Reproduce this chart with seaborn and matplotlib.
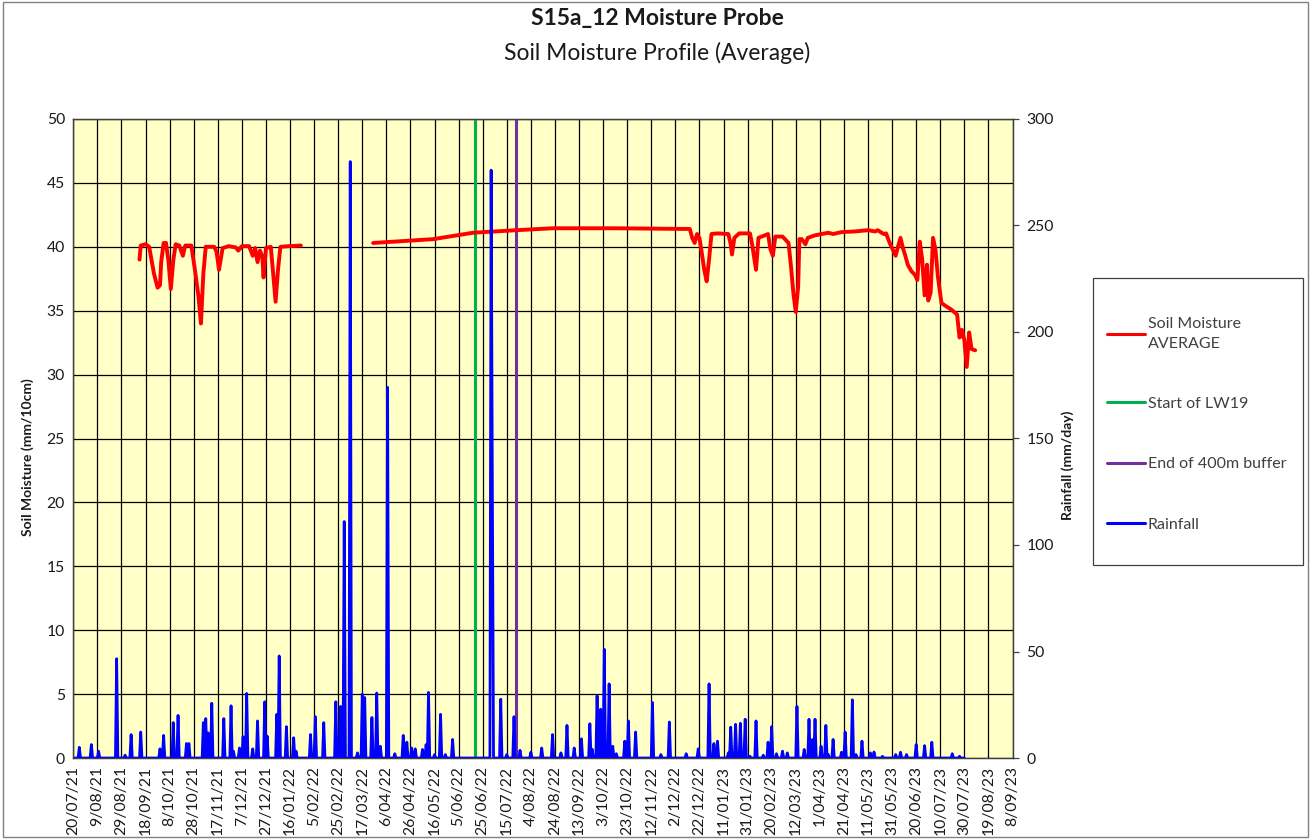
import numpy as np
import pandas as pd
import seaborn as sns
import matplotlib.pyplot as plt
from matplotlib.lines import Line2D
from matplotlib.patches import Rectangle

# all x values are days counted from the first axis date (20/07/21)
start = pd.Timestamp('2021-07-20')
end = pd.Timestamp('2023-09-08')

# soil moisture AVERAGE (mm/10cm), first logging period
sm1_day = [55, 56, 60, 63, 67, 70, 72, 73, 75, 77, 79, 81, 83, 85, 88, 91, 93, 98,
           101, 104, 106, 108, 110, 117, 119, 121, 124, 129, 135, 137, 140, 146,
           149, 151, 153, 155, 157, 158, 160, 164, 166, 168, 170, 172, 179, 189]
sm1_val = [39.0, 40.1, 40.2, 40.0, 37.9, 36.8, 37.0, 38.8, 40.3, 40.3, 38.9, 36.7, 38.9, 40.2, 40.1, 39.3, 40.1, 40.1,
           38.2, 36.1, 34.0, 37.9, 40.0, 40.0, 39.6, 38.2, 39.9, 40.05, 39.95, 39.7, 40.05, 40.05,
           39.3, 39.9, 38.8, 39.7, 39.2, 37.6, 39.9, 40.0, 37.9, 35.7, 38.2, 40.0, 40.05, 40.1]

# second logging period
sm2_day = [249, 299, 332, 368, 398, 450, 505, 512, 514, 516, 518, 520, 522, 524, 526, 528, 530,
           535, 544, 546, 547, 549, 553, 562, 564, 567, 569, 577, 579, 581, 583, 589, 594,
           596, 598, 600, 602, 603, 605, 608, 610, 616, 627, 631, 638, 649, 660, 666, 668,
           673, 675, 678, 680, 683, 685, 687, 689, 691, 693, 696, 699, 701, 703, 705, 707,
           709, 710, 712, 714, 716, 718, 721, 724, 729, 734, 736, 738, 740, 742, 744, 746, 749]
sm2_val = [40.3, 40.6, 41.1, 41.3, 41.45, 41.45, 41.4, 41.4, 40.7, 40.3, 41.0, 40.7, 39.5, 38.2, 37.3, 39.0, 41.0,
           41.05, 41.0, 40.2, 39.4, 40.7, 41.05, 41.05, 40.05, 38.2, 40.7, 41.0, 39.8, 39.3, 40.8, 40.8, 40.3,
           38.5, 36.4, 34.9, 36.9, 40.6, 40.6, 40.2, 40.7, 40.9, 41.1, 41.0, 41.15, 41.2, 41.3, 41.2, 41.3,
           41.0, 41.05, 40.3, 39.9, 39.3, 40.05, 40.7, 39.9, 39.3, 38.6, 38.1, 37.8, 37.4, 40.4, 39.0, 36.2,
           38.6, 35.8, 36.4, 40.7, 39.8, 37.7, 35.6, 35.4, 35.1, 34.7, 32.9, 33.5, 32.7, 30.6, 33.3, 32.0, 31.9]

# rainfall (mm/day), wet days only - other days are 0
rain_day = [5, 15, 21, 36, 43, 48, 56, 72, 75, 83, 87, 94, 96, 108, 110, 112, 115, 125, 131, 133,
            138, 141, 144, 149, 153, 159, 161, 169, 171, 177, 183, 185, 197, 201, 208, 218, 222,
            225, 230, 236, 240, 242, 248, 252, 255, 261, 267, 274, 277, 281, 284, 290, 293, 295,
            300, 305, 309, 315, 347, 348, 355, 360, 366, 371, 380, 389, 398, 405, 410, 416, 422,
            429, 431, 435, 438, 441, 445, 448, 451, 458, 461, 467, 481, 488, 495, 509, 519, 528,
            532, 535, 544, 546, 550, 554, 558, 562, 567, 573, 577, 580, 584, 589, 593, 601, 607,
            611, 614, 616, 621, 625, 627, 631, 638, 641, 647, 650, 655, 662, 665, 672, 683, 687,
            692, 700, 707, 713, 730, 736]
rain_mm = [5.0, 6.3, 3.2, 46.6, 1.3, 11.0, 12.2, 4.3, 10.6, 16.6, 20.0, 6.8, 6.8, 16.6, 18.5, 11.8, 25.7, 18.5, 24.5, 3.2,
           4.7, 10.0, 30.3, 4.3, 17.4, 26.4, 10.3, 20.5, 47.9, 14.7, 9.5, 3.2, 11.0, 19.4, 16.6, 26.4, 24.2,
           111.0, 280.0, 2.4, 30.0, 28.4, 19.0, 30.5, 5.5, 174.0, 2.0, 10.6, 7.4, 4.7, 4.3, 4.0, 6.3, 30.8,
           1.6, 20.5, 1.6, 8.7, 276.0, 130.0, 27.6, 1.6, 19.4, 3.6, 2.7, 4.7, 11.0, 2.4, 15.3, 4.7, 9.0,
           16.1, 4.0, 29.2, 22.9, 51.0, 34.8, 5.5, 2.0, 7.9, 17.4, 12.2, 26.0, 1.6, 16.9, 2.0, 4.3, 34.8,
           6.8, 7.9, 2.4, 14.5, 15.8, 16.3, 18.2, 0.8, 17.4, 1.3, 7.4, 14.7, 2.0, 3.2, 2.4, 24.2, 4.0,
           18.2, 8.7, 18.2, 5.5, 15.3, 1.6, 8.7, 2.7, 12.2, 27.3, 1.6, 7.9, 2.4, 2.8, 0.8, 1.6, 2.7,
           1.6, 6.3, 5.8, 7.4, 2.0, 0.8]
rain_last_day = 740

lw19_start = pd.Timestamp('2022-06-19')
buffer_end = pd.Timestamp('2022-07-23')

# build frames
sm = pd.concat([pd.DataFrame({'day': sm1_day, 'val': sm1_val, 'seg': 1}),
                pd.DataFrame({'day': sm2_day, 'val': sm2_val, 'seg': 2})], ignore_index=True)
sm['date'] = start + pd.to_timedelta(sm['day'], unit='D')

days = np.arange(0, rain_last_day + 1)
mm = np.zeros(len(days))
mm[rain_day] = rain_mm
rain = pd.DataFrame({'date': start + pd.to_timedelta(days, unit='D'), 'mm': mm})

sns.set_theme(style='white')
plt.rcParams['font.family'] = ['Lato', 'DejaVu Sans']

fig = plt.figure(figsize=(13.14, 8.39), dpi=100)
ax = fig.add_axes([73.3 / 1314, 1 - 758 / 839, (1012.5 - 73.3) / 1314, (758 - 119) / 839])
ax.set_facecolor('#FFFFC6')
ax2 = ax.twinx()

ax.axvline(lw19_start, color='#00B050', lw=2.2, zorder=3)
ax.axvline(buffer_end, color='#7030A0', lw=2.2, zorder=3)
sns.lineplot(data=sm, x='date', y='val', units='seg', estimator=None, color='#FF0000',
             lw=2.8, ax=ax, legend=False, zorder=4)
sns.lineplot(data=rain, x='date', y='mm', color='#0000FF', lw=2.0, ax=ax2, legend=False)

ax.set_xlim(start, end)
ax.set_ylim(0, 50)
ax.set_yticks(range(0, 51, 5))
ax2.set_ylim(0, 300)
ax2.set_yticks(range(0, 301, 50))
ticks = pd.date_range(start, end, freq='20D')
ax.set_xticks(ticks)
ax.set_xticklabels([f'{d.day}/{d:%m/%y}' for d in ticks], rotation=90)
ax.grid(True, color='black', lw=0.9)
ax.set_axisbelow(True)
ax.set_xlabel('')
ax.set_ylabel('')
ax2.set_ylabel('')

for a in (ax, ax2):
    for s in a.spines.values():
        s.set_color('#404040')
        s.set_linewidth(0.9)
ax.tick_params(axis='both', length=0, labelsize=11.3, labelcolor='#1a1a1a', pad=6)
ax2.tick_params(axis='y', length=4, width=0.9, color='#404040', direction='out',
                labelsize=11.3, labelcolor='#1a1a1a', pad=6)

fig.text(0.5, 1 - 18 / 839, 'S15a_12 Moisture Probe', ha='center', va='center',
         fontsize=16.5, fontweight='bold', color='#1a1a1a')
fig.text(0.5, 1 - 53 / 839, 'Soil Moisture Profile (Average)', ha='center', va='center',
         fontsize=16.5, color='#1a1a1a')
fig.text(28 / 1314, 1 - 457 / 839, 'Soil Moisture (mm/10cm)', rotation=90, ha='center',
         va='center', fontsize=10, fontweight='bold', color='#1a1a1a')
fig.text(1068 / 1314, 1 - 465 / 839, 'Rainfall (mm/day)', rotation=90, ha='center',
         va='center', fontsize=10, fontweight='bold', color='#1a1a1a')

# legend box drawn separately: Excel pads it much more vertically than sideways
fig.add_artist(Rectangle((1093 / 1314, 1 - 565 / 839), 210 / 1314, 287 / 839,
                         transform=fig.transFigure, facecolor='white',
                         edgecolor='#404040', lw=0.9))
handles = [Line2D([], [], color='#FF0000', lw=2.2),
           Line2D([], [], color='#00B050', lw=2.2),
           Line2D([], [], color='#7030A0', lw=2.2),
           Line2D([], [], color='#0000FF', lw=2.2)]
labels = ['Soil Moisture\nAVERAGE', 'Start of LW19', 'End of 400m buffer', 'Rainfall']
leg = fig.legend(handles, labels, loc='upper left',
                 bbox_to_anchor=(1107 / 1314, 1 - 317 / 839),
                 fontsize=11.5, frameon=False, borderpad=0, labelspacing=2.9,
                 handlelength=2.4, handletextpad=0.15, borderaxespad=0)
for t in leg.get_texts():
    t.set_color('#404040')
    t.set_linespacing(1.5)

fig.add_artist(Rectangle((3 / 1314, 2 / 839), 1305 / 1314, 835 / 839, transform=fig.transFigure,
                         fill=False, edgecolor='#808080', lw=1))

fig.savefig('out.png', dpi=100)
